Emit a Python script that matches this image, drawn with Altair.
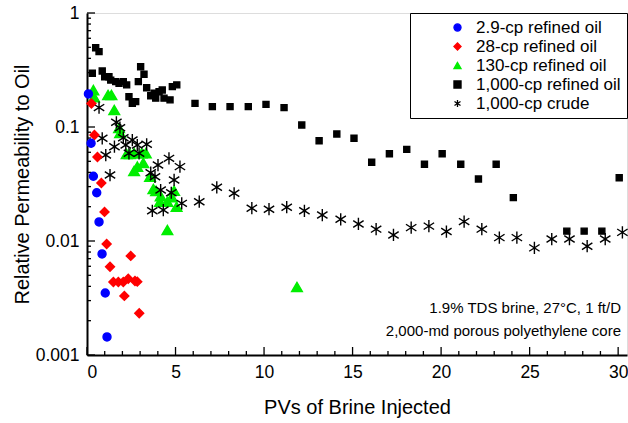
import altair as alt
import pandas as pd

# ---- data ----
series_names = ["2.9-cp refined oil", "28-cp refined oil", "130-cp refined oil",
                "1,000-cp refined oil", "1,000-cp crude"]

blue_x = [0.08, 0.23, 0.36, 0.55, 0.68, 0.85, 1.03, 1.13]
blue_y = [0.195, 0.072, 0.037, 0.0265, 0.0147, 0.0077, 0.0035, 0.00144]

red_x = [0.25, 0.42, 0.59, 0.81, 0.99, 1.11, 2.47, 1.30, 1.49, 1.77, 2.05, 2.33,
         2.71, 2.84, 2.11, 2.95]
red_y = [0.161, 0.085, 0.0546, 0.0323, 0.0180, 0.0094, 0.0074, 0.00595, 0.00437,
         0.00437, 0.00437, 0.00467, 0.00445, 0.0044, 0.0033, 0.00232]

green_x = [0.36, 0.40, 1.19, 1.38, 1.54, 1.81, 1.87, 2.24, 2.43, 2.66, 3.09, 3.32,
           3.18, 2.84, 2.66, 3.56, 3.75, 3.90, 4.16, 4.12, 4.54, 4.92, 4.79, 5.06,
           4.54, 11.86]
green_y = [0.211, 0.183, 0.191, 0.191, 0.141, 0.098, 0.0886, 0.058, 0.058, 0.059,
           0.0589, 0.059, 0.0483, 0.0449, 0.0411, 0.0366, 0.0286, 0.0275, 0.0248,
           0.0221, 0.0221, 0.0276, 0.0243, 0.020, 0.0125, 0.00395]

sq_x = [0.30, 0.49, 0.68, 0.86, 1.00, 1.24, 1.34, 1.62, 1.81, 2.05,
        2.24, 2.37, 2.56, 2.75, 2.90, 3.03, 3.22, 3.37, 3.60, 3.79,
        3.88, 4.07, 4.25, 4.35, 4.69, 4.82, 5.07, 6.10, 7.08, 8.08,
        9.11, 10.11, 11.13, 12.13, 13.11, 14.11, 15.08, 16.08, 17.08, 18.06,
        19.06, 20.06, 21.11, 22.11, 23.11, 24.08, 27.10, 28.08, 29.08, 30.06]
sq_y = [0.296, 0.496, 0.458, 0.310, 0.276, 0.276, 0.258, 0.250, 0.242, 0.250,
        0.234, 0.184, 0.161, 0.167, 0.250, 0.338, 0.290, 0.221, 0.188, 0.198,
        0.179, 0.204, 0.211, 0.179, 0.173, 0.226, 0.234, 0.161, 0.151, 0.151,
        0.151, 0.158, 0.148, 0.104, 0.0758, 0.0868, 0.0796, 0.049, 0.0583, 0.0637,
        0.0471, 0.0583, 0.0471, 0.035, 0.0471, 0.024, 0.0122, 0.0122, 0.0122, 0.0359]

cr_x = [0.68, 0.86, 1.06, 1.30, 1.55, 1.66, 1.86, 2.05, 2.19, 2.37,
        2.56, 2.84, 2.94, 3.37, 3.60, 3.69, 3.84, 4.01, 4.16, 4.31,
        4.63, 4.76, 4.92, 5.25, 5.35, 6.34, 7.33, 8.31, 9.31, 10.28,
        11.28, 12.28, 13.29, 14.33, 15.33, 16.33, 17.31, 18.31, 19.31, 20.30,
        21.30, 22.30, 23.29, 24.28, 25.27, 26.25, 27.25, 28.25, 29.27, 30.24]
cr_y = [0.148, 0.0796, 0.0568, 0.0379, 0.0672, 0.110, 0.0986, 0.0806, 0.0695, 0.0588,
        0.0769, 0.0695, 0.0588, 0.0705, 0.0397, 0.0184, 0.0366, 0.0464, 0.028, 0.0187,
        0.0531, 0.0265, 0.0343, 0.0449, 0.0214, 0.0221, 0.0296, 0.0262, 0.0194, 0.019,
        0.0198, 0.0184, 0.0169, 0.0155, 0.0141, 0.0127, 0.0113, 0.0131, 0.0135, 0.0121,
        0.0148, 0.0127, 0.0107, 0.0107, 0.0087, 0.0104, 0.0104, 0.009, 0.0104, 0.0119]

x_tick_labels = [0, 5, 10, 15, 20, 25, 30]
y_tick_labels = [0.001, 0.01, 0.1, 1]
note_lines = ["1.9% TDS brine, 27\u00b0C, 1 ft/D", "2,000-md porous polyethylene core"]

# ---- tables ----
rows = []
for name, xs, ys in [(series_names[0], blue_x, blue_y), (series_names[1], red_x, red_y),
                     (series_names[2], green_x, green_y), (series_names[3], sq_x, sq_y),
                     (series_names[4], cr_x, cr_y)]:
    for xv, yv in zip(xs, ys):
        rows.append({"pv": xv, "kro": yv, "series": name})
df = pd.DataFrame(rows)

x_minor = [v for v in range(0, 31) if v % 5 != 0]
y_minor = []
for dec in [0.001, 0.01, 0.1]:
    for m in range(2, 10):
        y_minor.append(round(dec * m, 6))

W, H = 540, 342
FONT = "Liberation Sans"
star_path = "M0,-1L0,1M-0.85,-0.55L0.85,0.55M-0.85,0.55L0.85,-0.55"

x_scale = alt.Scale(domain=[0, 30.5], nice=False, zero=False)
y_scale = alt.Scale(type="log", domain=[0.001, 1], nice=False)

x_axis = alt.Axis(orient="bottom", values=x_tick_labels, format="d",
                  title="PVs of Brine Injected", ticks=False, grid=False,
                  labelFontSize=17.5, titleFontSize=20, labelPadding=8,
                  titlePadding=17, domainWidth=2, domainColor="black",
                  labelColor="black", titleColor="black", titleFontWeight="normal")
y_axis = alt.Axis(orient="left", values=y_tick_labels, format="~g",
                  title="Relative Permeability to Oil", ticks=False, grid=False,
                  labelFontSize=17.5, titleFontSize=20, labelPadding=8,
                  titlePadding=3, domainWidth=2, domainColor="black",
                  labelColor="black", titleColor="black", titleFontWeight="normal")

leg = alt.Legend(title=None, orient="top-right", offset=0, padding=6,
                 strokeColor="black", fillColor="white", labelFontSize=17,
                 labelColor="black", labelFont=FONT, labelLimit=400, symbolSize=50,
                 symbolStrokeWidth=1.3, rowPadding=1, labelOffset=10, symbolOffset=33)

shape_enc = alt.Shape("series:N", legend=leg, scale=alt.Scale(
    domain=series_names, range=["circle", "diamond", "triangle-up", "square", star_path]))
fill_enc = alt.Fill("series:N", legend=leg, scale=alt.Scale(
    domain=series_names, range=["#0000ff", "#ff0000", "#00ee00", "#000000", "transparent"]))
stroke_enc = alt.Stroke("series:N", legend=leg, scale=alt.Scale(
    domain=series_names, range=["#0000ff", "#ff0000", "#00ee00", "#000000", "#000000"]))

marker_size = {series_names[0]: 64, series_names[1]: 80, series_names[2]: 115,
               series_names[3]: 36, series_names[4]: 150}
draw_order = [series_names[3], series_names[2], series_names[4], series_names[1], series_names[0]]

base = alt.Chart(df)
point_layers = []
for name in draw_order:
    point_layers.append(
        base.transform_filter(alt.datum.series == name)
        .mark_point(filled=False, strokeWidth=1.4, opacity=1, size=marker_size[name])
        .encode(x=alt.X("pv:Q", scale=x_scale, axis=x_axis),
                y=alt.Y("kro:Q", scale=y_scale, axis=y_axis),
                shape=shape_enc, fill=fill_enc, stroke=stroke_enc)
    )


def x_ticks(vals, length):
    return alt.Chart(pd.DataFrame({"pv": vals})).mark_rule(color="black", strokeWidth=1.3).encode(
        x=alt.X("pv:Q", scale=x_scale, axis=x_axis), y=alt.value(H), y2=alt.value(H - length))


def y_ticks(vals, length):
    return alt.Chart(pd.DataFrame({"kro": vals})).mark_rule(color="black", strokeWidth=1.3).encode(
        y=alt.Y("kro:Q", scale=y_scale, axis=y_axis), x=alt.value(0), x2=alt.value(length))


note = alt.Chart(pd.DataFrame({"k": [0]})).mark_text(
    align="right", baseline="alphabetic", fontSize=15, lineHeight=23, font=FONT,
    color="black").encode(x=alt.value(534), y=alt.value(300), text=alt.value(note_lines))

chart = alt.layer(
    x_ticks(x_tick_labels, 8), x_ticks(x_minor, 4),
    y_ticks(y_tick_labels, 8), y_ticks(y_minor, 4),
    *point_layers, note
).properties(
    width=W, height=H, autosize="none",
    padding={"left": 87, "top": 13, "right": 1, "bottom": 68},
).configure_view(stroke=None).configure(font=FONT)

chart.save("out.html", embed_options={"renderer": "svg", "actions": False})
